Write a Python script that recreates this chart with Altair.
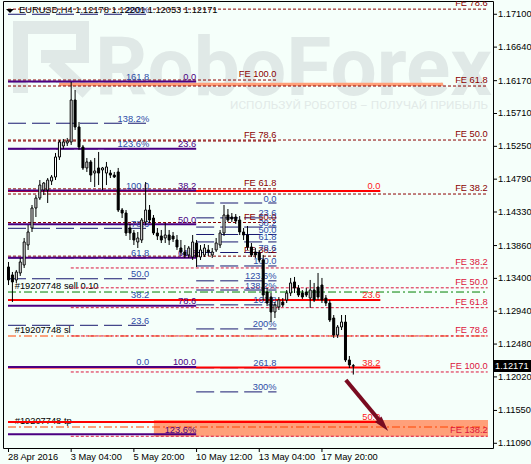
import altair as alt
import pandas as pd

# ---------------- EURUSD H4 candles, bar 0 = 28 Apr 2016 12:00 ----------------
opens = [1.13560, 1.13448, 1.13378, 1.13476, 1.13588, 1.13868, 1.14106, 1.14386, 1.14526, 1.14638,
         1.14638, 1.14764, 1.14820, 1.15101, 1.15255, 1.15297, 1.15311, 1.15899, 1.15521, 1.15241,
         1.14947, 1.15031, 1.14876, 1.14947, 1.14919, 1.14876, 1.14876, 1.14848, 1.14891, 1.14358,
         1.14316, 1.14106, 1.14036, 1.13910, 1.13938, 1.14190, 1.14358, 1.14246, 1.14036, 1.13994,
         1.13966, 1.14008, 1.13994, 1.13938, 1.13826, 1.13770, 1.13728, 1.13700, 1.13896, 1.13700,
         1.13728, 1.13798, 1.13728, 1.13798, 1.13868, 1.14036, 1.14288, 1.14260, 1.14260, 1.14218,
         1.14050, 1.14008, 1.13840, 1.13770, 1.13756, 1.13658, 1.13209, 1.13139, 1.12929, 1.12999,
         1.13069, 1.13097, 1.13195, 1.13350, 1.13265, 1.13195, 1.13209, 1.13125, 1.13237, 1.13279,
         1.13307, 1.13125, 1.13055, 1.12845, 1.12607, 1.12719, 1.12789, 1.12257, 1.12178]
highs = [1.13630, 1.13490, 1.13518, 1.13686, 1.13966, 1.14148, 1.14428, 1.14568, 1.14778, 1.14750,
         1.14806, 1.14848, 1.15157, 1.15339, 1.15353, 1.15367, 1.16151, 1.16039, 1.15591, 1.15269,
         1.15087, 1.15059, 1.15087, 1.15171, 1.14961, 1.15031, 1.14919, 1.14891, 1.14947, 1.14386,
         1.14358, 1.14162, 1.14078, 1.14050, 1.14246, 1.14750, 1.14428, 1.14288, 1.14106, 1.14078,
         1.14176, 1.14078, 1.14050, 1.14008, 1.13938, 1.13868, 1.13854, 1.14008, 1.13938, 1.13868,
         1.13882, 1.13868, 1.13826, 1.13966, 1.14078, 1.14428, 1.14372, 1.14316, 1.14302, 1.14274,
         1.14106, 1.14134, 1.13896, 1.13826, 1.13798, 1.13728, 1.13265, 1.13195, 1.13069, 1.13139,
         1.13125, 1.13237, 1.13406, 1.13420, 1.13307, 1.13237, 1.13265, 1.13378, 1.13336, 1.13476,
         1.13406, 1.13167, 1.13097, 1.12887, 1.12747, 1.12887, 1.12887, 1.12313, 1.12201]
lows = [1.13307, 1.13069, 1.13336, 1.13434, 1.13546, 1.13798, 1.14050, 1.14260, 1.14498, 1.14568,
        1.14456, 1.14708, 1.14778, 1.15059, 1.15213, 1.15255, 1.15269, 1.15479, 1.15199, 1.14919,
        1.14891, 1.14750, 1.14680, 1.14708, 1.14638, 1.14708, 1.14806, 1.14806, 1.14330, 1.14246,
        1.13994, 1.13938, 1.13868, 1.13826, 1.13896, 1.14148, 1.14176, 1.14008, 1.13938, 1.13896,
        1.13896, 1.13868, 1.13910, 1.13798, 1.13728, 1.13686, 1.13686, 1.13658, 1.13560, 1.13658,
        1.13700, 1.13714, 1.13686, 1.13770, 1.13826, 1.13994, 1.14190, 1.14190, 1.14162, 1.14008,
        1.13938, 1.13798, 1.13700, 1.13686, 1.13630, 1.13097, 1.13013, 1.12789, 1.12845, 1.12957,
        1.12999, 1.13055, 1.13153, 1.13195, 1.13139, 1.13111, 1.13139, 1.12985, 1.13069, 1.13097,
        1.13055, 1.13013, 1.12789, 1.12565, 1.12565, 1.12677, 1.12229, 1.12145, 1.12053]
closes = [1.13378, 1.13350, 1.13490, 1.13630, 1.13910, 1.14050, 1.14386, 1.14526, 1.14708, 1.14736,
          1.14778, 1.14820, 1.15101, 1.15311, 1.15311, 1.15325, 1.15899, 1.15521, 1.15241, 1.14947,
          1.15031, 1.14848, 1.14905, 1.14876, 1.14947, 1.14961, 1.14848, 1.14820, 1.14358, 1.14316,
          1.14036, 1.14036, 1.13938, 1.13966, 1.14218, 1.14358, 1.14218, 1.14036, 1.13994, 1.13938,
          1.14008, 1.13938, 1.13952, 1.13840, 1.13770, 1.13728, 1.13826, 1.13910, 1.13700, 1.13798,
          1.13826, 1.13770, 1.13770, 1.13896, 1.14036, 1.14288, 1.14218, 1.14232, 1.14204, 1.14050,
          1.14008, 1.13840, 1.13728, 1.13728, 1.13658, 1.13167, 1.13055, 1.12929, 1.13027, 1.13097,
          1.13027, 1.13195, 1.13336, 1.13265, 1.13167, 1.13139, 1.13167, 1.13237, 1.13097, 1.13139,
          1.13097, 1.13055, 1.12817, 1.12607, 1.12719, 1.12789, 1.12257, 1.12187, 1.12171]

# time scale (bar index -> label) and price scale
tick_bars = [0, 16, 32, 48, 64, 80]
tick_names = ["28 Apr 2016", "3 May 04:00", "5 May 20:00", "10 May 12:00", "13 May 04:00", "17 May 20:00"]
price_ticks = [1.11090, 1.11550, 1.12020, 1.12480, 1.12940, 1.13400, 1.13860,
               1.14330, 1.14790, 1.15250, 1.15710, 1.16170, 1.16640, 1.17100]
last_price = 1.12171
symbol_line = "EURUSD,H4 1.12178 1.12201 1.12053 1.12171"

# ---------------- drawing objects ----------------
# each tool: price at 0 %, price at 100 %, bar span, levels and captions
fib_purple = dict(p0=1.1616, p100=1.1216, x1=-0.125, x2=47.9,
                  levels=[0, 23.6, 38.2, 50, 61.8, 78.6, 100, 123.6],
                  names=["0.0", "23.6", "38.2", "50.0", "61.8", "78.6", "100.0", "123.6%"])
fib_navy_left = dict(p0=1.1216, p100=1.1463, x1=-0.125, x2=35.9,
                     levels=[0, 23.6, 38.2, 50, 61.8, 78.6, 100, 123.6, 138.2, 161.8, 200],
                     names=["0.0", "23.6", "38.2", "50.0", "61.8", "78.6", "100.0", "123.6%",
                            "138.2%", "161.8", "200%"])
fib_navy_mid = dict(p0=1.14456, p100=1.13574, x1=47.9, x2=68.4,
                    levels=[0, 23.6, 38.2, 50, 61.8, 78.6, 100, 123.6, 138.2, 161.8, 200, 261.8, 300],
                    names=["0.0", "23.6", "38.2", "50.0", "61.8", "78.6", "100.0", "123.6%",
                           "138.2%", "161.8", "200%", "261.8", "300%"])
fib_red = dict(p0=1.14624, p100=1.0815, x1=-0.125, x2=94.9,
               levels=[0, 23.6, 38.2, 50], names=["0.0", "23.6", "38.2", "50.0"])
fe_left = dict(p0=1.12187, p100=1.16179, x1=-0.125, x2=68.4,
               levels=[38.2, 50, 61.8, 78.6, 100],
               names=["FE 38.2", "FE 50.0", "FE 61.8", "FE 78.6", "FE 100.0"])
fe_right = dict(p0=1.12133, p100=1.18544, x1=-0.125, x2=122.3,
                levels=[38.2, 50, 61.8, 78.6],
                names=["FE 38.2", "FE 50.0", "FE 61.8", "FE 78.6"])
fe_crimson = dict(p0=1.14447, p100=1.12089, x1=15.9, x2=122.3,
                  levels=[38.2, 50, 61.8, 78.6, 100, 138.2],
                  names=["FE 38.2", "FE 50.0", "FE 61.8", "FE 78.6", "FE 100.0", "FE 138.2"])

# order lines: price, caption
order_prices = [1.13209, 1.12593, 1.11318]
order_names = ["#19207748 sell 0.10", "#19207748 sl", "#19207748 tp"]
order_colors = ["#008000", "#ff4500", "#ff4500"]

# shaded zones: bar from, bar to, price low, price high
zone_x1 = [12.9, 37.1]
zone_x2 = [110.9, 122.375]
zone_lo = [1.16095, 1.11185]
zone_hi = [1.16141, 1.11416]

# target arrow: (bar, price) tail and tip
arrow_bar = [86.1, 96.9]
arrow_price = [1.11977, 1.11262]

# ---------------- styling ----------------
BG = "#f5fffa"
MARK = "#e0e9e7"
FONT = "Liberation Sans"
FS = 9.3
W, H = 490, 447
XS = alt.Scale(domain=[-0.125, 122.375], nice=False, zero=False)
YS = alt.Scale(domain=[1.11024, 1.17286], nice=False, zero=False)


def xq(field):
    return alt.X(field, type="quantitative", scale=XS, axis=None)


def yq(field):
    return alt.Y(field, type="quantitative", scale=YS, axis=None)


def level_frame(tool):
    rows = []
    for lv, name in zip(tool["levels"], tool["names"]):
        price = tool["p0"] + (tool["p100"] - tool["p0"]) * lv / 100.0
        rows.append({"x1": tool["x1"], "x2": tool["x2"], "price": price, "name": name})
    return pd.DataFrame(rows)


def rules(df, color, width=1.0, dash=None):
    kw = dict(color=color, strokeWidth=width, clip=True)
    if dash:
        kw["strokeDash"] = dash
    return alt.Chart(df).mark_rule(**kw).encode(x=xq("x1"), x2="x2:Q", y=yq("price"))


def captions(df, color, dy):
    return alt.Chart(df).mark_text(align="right", baseline="alphabetic", dy=dy, font=FONT,
                                   fontSize=FS, color=color, clip=True).encode(
        x=xq("x2"), y=yq("price"), text="name:N")


def block(x1, x2, y1, y2):
    # one piece of the faint logo, in pixels
    return alt.Chart(pd.DataFrame({"k": [0]})).mark_rect(color=MARK).encode(
        x=alt.value(x1), x2=alt.value(x2), y=alt.value(y1), y2=alt.value(y2))


candles = pd.DataFrame({"bar": list(range(len(opens))), "open": opens, "high": highs,
                        "low": lows, "close": closes})
candles["fill"] = ["white" if c >= o else "black" for o, c in zip(opens, closes)]

layers = []

# watermark: logo square, brand name and slogan
layers += [block(10, 25, 20, 92), block(10, 86, 20, 33), block(73, 86, 20, 62),
           block(38, 86, 49, 62)]
layers.append(alt.Chart(pd.DataFrame({"px": [50, 84], "py": [60, 92]})).mark_line(
    color=MARK, strokeWidth=13, strokeCap="butt").encode(
    x=alt.X("px:Q", scale=None, axis=None), y=alt.Y("py:Q", scale=None, axis=None)))
layers.append(alt.Chart(pd.DataFrame({"t": ["RoboForex"]})).mark_text(
    x=92, y=94, align="left", baseline="alphabetic", font="Roboto", fontSize=82,
    fontWeight="bold", color=MARK).encode(text="t:N"))
layers.append(alt.Chart(pd.DataFrame({"t": ["ИСПОЛЬЗУЙ РОБОТОВ – ПОЛУЧАЙ ПРИБЫЛЬ"]})).mark_text(
    x=227, y=108, align="left", baseline="alphabetic", font="Roboto", fontSize=11.8,
    color="#e2eae8").encode(text="t:N"))

# shaded zones
zones = pd.DataFrame({"x1": zone_x1, "x2": zone_x2, "lo": zone_lo, "hi": zone_hi})
layers.append(alt.Chart(zones).mark_rect(color="#ffa07a", clip=True).encode(
    x=xq("x1"), x2="x2:Q", y=yq("lo"), y2="hi:Q"))

# order captions and lines
orders = pd.DataFrame({"price": order_prices, "name": order_names, "color": order_colors,
                       "x1": [-0.125] * 3, "x2": [122.375] * 3, "xt": [1.6] * 3})
layers.append(alt.Chart(orders).mark_text(align="left", baseline="alphabetic", dy=-3, font=FONT,
                                          fontSize=FS, color="black", clip=True).encode(
    x=xq("xt"), y=yq("price"), text="name:N"))
for k in range(len(order_prices)):
    layers.append(rules(orders.iloc[[k]], order_colors[k], 1, [8, 3, 2, 3]))

# level lines
d_fe_right = level_frame(fe_right)
d_fe_left = level_frame(fe_left)
d_fe_crimson = level_frame(fe_crimson)
d_navy_left = level_frame(fib_navy_left)
d_navy_mid = level_frame(fib_navy_mid)
d_red = level_frame(fib_red)
d_purple = level_frame(fib_purple)

layers.append(rules(d_fe_crimson, "#dc143c", 1, [3, 2]))
layers.append(rules(d_fe_right, "#8b0000", 1, [3, 2]))
layers.append(rules(d_fe_left, "#8b0000", 1, [3, 2]))
layers.append(rules(d_navy_left, "#191970", 1, [18, 6]))
layers.append(rules(d_navy_mid, "#191970", 1, [18, 6]))
layers.append(rules(d_red, "#ff0000", 2))
layers.append(rules(d_purple, "#4b0082", 2))

# level captions
layers.append(captions(d_fe_crimson, "#dc143c", -3))
layers.append(captions(d_fe_right, "#8b0000", -3))
layers.append(captions(d_fe_left, "#8b0000", -3))
layers.append(captions(d_navy_left, "#2d4ca8", -1.5))
layers.append(captions(d_navy_mid, "#2d4ca8", -1.5))
layers.append(captions(d_red, "#ff1a1a", -2))
layers.append(captions(d_purple, "#4b0082", -1.5))

# candles: wicks then bodies
layers.append(alt.Chart(candles).mark_rule(color="black", strokeWidth=1).encode(
    x=xq("bar"), y=yq("low"), y2="high:Q"))
layers.append(alt.Chart(candles).mark_bar(size=2, stroke="black", strokeWidth=1,
                                          orient="vertical").encode(
    x=xq("bar"), y=yq("open"), y2="close:Q", fill=alt.Fill("fill:N", scale=None)))

# arrow towards the target zone
shaft_end = [arrow_bar[0] + 0.8 * (arrow_bar[1] - arrow_bar[0]),
             arrow_price[0] + 0.8 * (arrow_price[1] - arrow_price[0])]
shaft = pd.DataFrame({"bar": [arrow_bar[0], shaft_end[0]], "price": [arrow_price[0], shaft_end[1]]})
layers.append(alt.Chart(shaft).mark_line(color="#7a0b20", strokeWidth=4, strokeCap="butt").encode(
    x=xq("bar"), y=yq("price")))
tip = pd.DataFrame({"bar": [arrow_bar[1]], "price": [arrow_price[1]]})
layers.append(alt.Chart(tip).mark_point(shape="M0,0L-0.55,-2L0.55,-2Z", size=240, angle=320,
                                        filled=True, color="#7a0b20", opacity=1).encode(
    x=xq("bar"), y=yq("price")))

# symbol line at the top left
layers.append(alt.Chart(pd.DataFrame({"t": ["v"]})).mark_point(
    shape="M-1,-0.5L1,-0.5L0,0.5Z", size=64, filled=True, color="black", opacity=1,
    x=7, y=10).encode(detail="t:N"))
layers.append(alt.Chart(pd.DataFrame({"t": [symbol_line]})).mark_text(
    x=16, y=9, align="left", baseline="middle", font=FONT, fontSize=FS, color="black"
).encode(text="t:N"))

# time scale: ticks and captions below the frame
tdf = pd.DataFrame({"bar": tick_bars, "name": tick_names})
layers.append(alt.Chart(tdf).mark_rule(color="black", strokeWidth=1).encode(
    x=xq("bar"), y=alt.value(H), y2=alt.value(H + 4)))
layers.append(alt.Chart(tdf).mark_text(align="left", baseline="middle", font=FONT, fontSize=FS,
                                       color="black", dx=-0.5).encode(
    x=xq("bar"), y=alt.value(H + 8.5), text="name:N"))

# price scale: ticks and captions right of the frame
pdf = pd.DataFrame({"price": price_ticks, "name": [f"{p:.5f}" for p in price_ticks]})
layers.append(alt.Chart(pdf).mark_rule(color="black", strokeWidth=1).encode(
    x=alt.value(W), x2=alt.value(W + 4), y=yq("price")))
layers.append(alt.Chart(pdf).mark_text(align="left", baseline="middle", font=FONT, fontSize=FS,
                                       color="black").encode(
    x=alt.value(W + 5), y=yq("price"), text="name:N"))

# last price marker on the price scale
lp = pd.DataFrame({"price": [last_price], "t": [f"{last_price:.5f}"]})
layers.append(alt.Chart(lp).mark_tick(orient="horizontal", size=38, thickness=12, color="black",
                                      opacity=1).encode(
    x=alt.value(W + 19), y=yq("price")))
layers.append(alt.Chart(lp).mark_text(align="left", baseline="middle", font=FONT, fontSize=FS,
                                      color="white").encode(
    x=alt.value(W + 2), y=yq("price"), text="t:N"))

chart = alt.layer(*layers).properties(
    width=W, height=H,
    autosize=alt.AutoSizeParams(type="none"),
    padding={"left": 3, "top": 1, "right": 38, "bottom": 16},
    background=BG,
).configure_view(stroke="black", strokeWidth=1, fill=BG)

chart.save("out.html", embed_options={"renderer": "svg", "actions": False})
